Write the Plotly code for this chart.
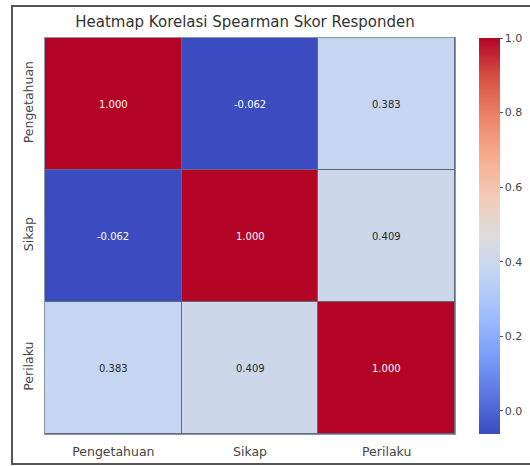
import plotly.graph_objects as go

# Spearman correlation matrix of respondent scores
labels = ["Pengetahuan", "Sikap", "Perilaku"]
corr = [
    [1.000, -0.062, 0.383],
    [-0.062, 1.000, 0.409],
    [0.383, 0.409, 1.000],
]
cbar_ticks = [0.0, 0.2, 0.4, 0.6, 0.8, 1.0]

# matplotlib-like "coolwarm" diverging colour scale
coolwarm = [
    [0.0, "#3b4cc0"], [0.1, "#5977e3"], [0.2, "#7b9ff9"], [0.3, "#9ebeff"],
    [0.4, "#c0d4f5"], [0.5, "#dddcdc"], [0.6, "#f2cbb7"], [0.7, "#f7ac8e"],
    [0.8, "#ee8468"], [0.9, "#d65244"], [1.0, "#b40426"],
]

zmin = min(min(r) for r in corr)
zmax = max(max(r) for r in corr)

W, H = 530, 466
L, R, T, B = 45, 75, 38, 32
pw, ph = W - L - R, H - T - B

fig = go.Figure(
    go.Heatmap(
        z=corr, x=labels, y=labels,
        colorscale=coolwarm, zmin=zmin, zmax=zmax,
        xgap=1, ygap=1,
        colorbar=dict(
            x=(479 - L) / pw, xanchor="left", xref="paper",
            y=0.5, yanchor="middle", ypad=0, xpad=0,
            thickness=21, len=ph, lenmode="pixels",
            outlinewidth=0,
            tickvals=cbar_ticks, ticktext=[f"{v:.1f}" for v in cbar_ticks],
            ticks="outside", ticklen=3, tickcolor="#555",
            tickfont=dict(family="DejaVu Sans", size=11, color="#444"),
        ),
        hoverongaps=False,
    )
)

# value labels in each cell
for i, row in enumerate(corr):
    for j, v in enumerate(row):
        norm = (v - zmin) / (zmax - zmin)
        color = "#ffffff" if (norm < 0.2 or norm > 0.8) else "#2a2a2a"
        fig.add_annotation(
            x=labels[j], y=labels[i], text=f"{v:.3f}", showarrow=False,
            font=dict(family="DejaVu Sans", size=10, color=color),
        )

# outer figure frame
fig.add_shape(
    type="rect", xref="paper", yref="paper",
    x0=(12 - L) / pw, x1=(533 - L) / pw,
    y0=(H - B - 464) / ph, y1=(H - B - 6) / ph,
    line=dict(color="#555555", width=2), layer="below",
)

fig.update_layout(
    width=W, height=H,
    margin=dict(l=L, r=R, t=T, b=B, autoexpand=False),
    paper_bgcolor="white", plot_bgcolor="#5d6b80",
    title=dict(
        text="Heatmap Korelasi Spearman Skor Responden",
        x=(245 - L) / pw, xref="paper", xanchor="center",
        y=1 - 22 / H, yanchor="middle",
        font=dict(family="DejaVu Sans", size=15, color="#333"),
    ),
    font=dict(family="DejaVu Sans"),
    xaxis=dict(
        showgrid=False, zeroline=False, ticks="", ticklen=0,
        ticklabelstandoff=6,
        tickfont=dict(size=12.5, color="#444"),
        showline=True, mirror=True, linecolor="#8a95a8", linewidth=1,
    ),
    yaxis=dict(
        showgrid=False, zeroline=False, autorange="reversed",
        ticks="", tickangle=-90, ticklabelstandoff=6,
        tickfont=dict(size=12.5, color="#444"),
        showline=True, mirror=True, linecolor="#8a95a8", linewidth=1,
    ),
)

fig.write_html("out.html")
